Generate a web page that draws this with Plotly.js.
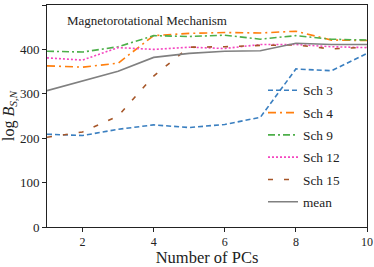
<!DOCTYPE html>
<html>
<head>
<meta charset="utf-8">
<script src="https://cdn.plot.ly/plotly-3.0.1.min.js"></script>
<style>html,body{margin:0;padding:0;background:#fff;}#chart{width:374px;height:267px;}</style>
</head>
<body>
<div id="chart"></div>
<script>
const numPCs = [1, 2, 3, 4, 5, 6, 7, 8, 9, 10];
const sch3  = [209, 206, 220, 230, 224, 231, 247, 356, 352, 391];
const sch4  = [363, 360, 369, 431, 436, 438, 437, 441, 421, 420];
const sch9  = [396, 394, 406, 431, 429, 432, 423, 431, 423, 421];
const sch12 = [381, 376, 404, 400, 405, 402, 411, 411, 406, 404];
const sch15 = [202, 214, 250, 340, 405, 406, 409, 410, 401, 405];
const meanV = [307, 329, 351, 382, 391, 396, 397, 414, 411, 411];
const seriesNames = ['Sch 3', 'Sch 4', 'Sch 9', 'Sch 12', 'Sch 15', 'mean'];

const series = [sch3, sch4, sch9, sch12, sch15, meanV];
const colors = ['#3a7fc0', '#ff7f0e', '#4daf4a', '#f545c0', '#a65628', '#808080'];
const dashes = ['5px,3px', '8px,4px,2px,4px', '7px,3px,2px,3px', '2px,2px', '5px,11px', 'solid'];

const traces = series.map((ys, i) => ({
  x: numPCs, y: ys, name: seriesNames[i], type: 'scatter', mode: 'lines',
  legendgroup: 'g' + i,
  line: {color: colors[i], width: 1.6, dash: dashes[i]}
}));

const serif = 'Liberation Serif, DejaVu Serif, serif';
const layout = {
  width: 374, height: 267,
  margin: {l: 47, r: 7, t: 5, b: 40},
  paper_bgcolor: '#fff', plot_bgcolor: '#fff',
  font: {family: serif, color: '#222', size: 12},
  showlegend: true,
  legend: {x: 0.675, y: 0.684, xanchor: 'left', yanchor: 'top', bgcolor: 'rgba(255,255,255,0)',
           font: {family: serif, size: 13.3, color: '#222'}, tracegroupgap: 2, itemwidth: 30},
  xaxis: {range: [1, 10], tickvals: [2, 4, 6, 8, 10], ticks: 'outside', ticklen: 4, tickwidth: 1,
          tickcolor: '#222', showgrid: false, zeroline: false, showline: true, linecolor: '#222',
          linewidth: 1, mirror: true, tickfont: {size: 12},
          title: {text: 'Number of PCs', font: {size: 16.5}, standoff: 7}},
  yaxis: {range: [0, 500], tickvals: [0, 100, 200, 300, 400, 500], ticks: 'outside', ticklen: 4,
          tickwidth: 1, tickcolor: '#222', showgrid: false, zeroline: false, showline: true,
          linecolor: '#222', linewidth: 1, mirror: true, tickfont: {size: 13},
          title: {text: 'log <i>B</i><sub><i>S,N</i></sub>', font: {size: 16}, standoff: 3}},
  annotations: [{text: 'Magnetorotational Mechanism', xref: 'paper', yref: 'paper', x: 0.055, y: 0.93,
                 xanchor: 'left', yanchor: 'middle', showarrow: false, font: {size: 13, color: '#222'}}]
};
Plotly.newPlot('chart', traces, layout, {displayModeBar: false, staticPlot: true});
</script>
</body>
</html>
